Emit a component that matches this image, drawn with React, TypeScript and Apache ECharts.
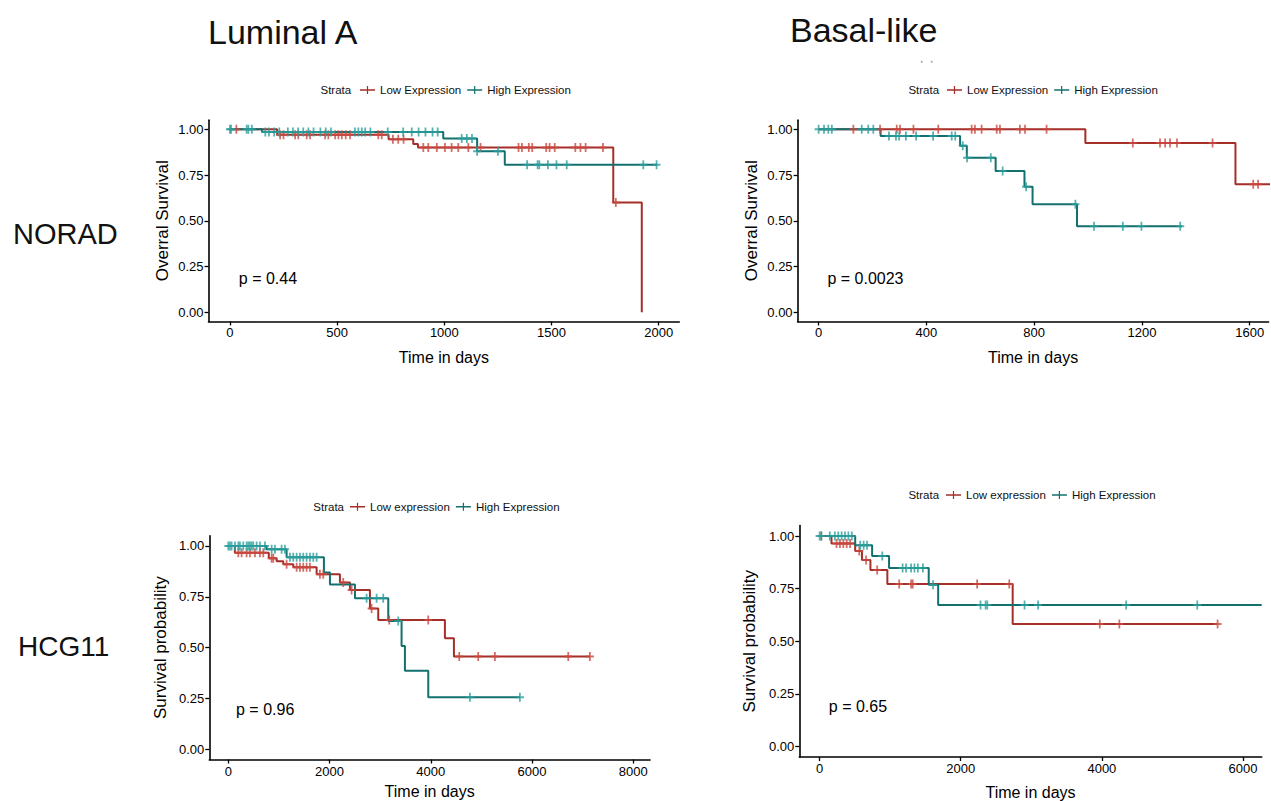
import React, { useEffect, useRef } from 'react';
import * as echarts from 'echarts';

type Pt = [number, number];

// ---------- shared tick labels ----------
const survivalTicks = [0, 0.25, 0.5, 0.75, 1];
const lumNoradTimeTicks = [0, 500, 1000, 1500, 2000];
const basNoradTimeTicks = [0, 400, 800, 1200, 1600];
const lumHcgTimeTicks = [0, 2000, 4000, 6000, 8000];
const basHcgTimeTicks = [0, 2000, 4000, 6000];

// ---------- NORAD / Luminal A ----------
const lumNoradLow: Pt[] = [[0, 1], [220, 0.97], [740, 0.945], [855, 0.92], [877, 0.9], [1788, 0.6], [1921, 0.0]];
const lumNoradHigh: Pt[] = [[0, 1], [150, 0.985], [995, 0.95], [1153, 0.88], [1282, 0.806], [1993, 0.806]];
const lumNoradLowCens: Pt[] = [
  [30, 1], [234, 0.97], [250, 0.97], [304, 0.97], [319, 0.97], [358, 0.97], [374, 0.97], [444, 0.97], [459, 0.97],
  [491, 0.97], [506, 0.97], [522, 0.97], [540, 0.97], [560, 0.97], [692, 0.97], [708, 0.97], [760, 0.945], [785, 0.945],
  [810, 0.945], [902, 0.9], [925, 0.9], [965, 0.9], [1003, 0.9], [1034, 0.9], [1065, 0.9], [1112, 0.9], [1169, 0.9],
  [1346, 0.9], [1362, 0.9], [1394, 0.9], [1410, 0.9], [1475, 0.9], [1491, 0.9], [1515, 0.9], [1611, 0.9], [1635, 0.9],
  [1659, 0.9], [1740, 0.9], [1800, 0.6],
];
const lumNoradHighCens: Pt[] = [
  [0, 1], [5, 1], [78, 1], [86, 1], [102, 1], [165, 0.985], [182, 0.985], [206, 0.985], [230, 0.985], [270, 0.985],
  [294, 0.985], [318, 0.985], [342, 0.985], [366, 0.985], [390, 0.985], [422, 0.985], [447, 0.985], [471, 0.985],
  [583, 0.985], [599, 0.985], [615, 0.985], [631, 0.985], [655, 0.985], [736, 0.985], [808, 0.985], [848, 0.985],
  [880, 0.985], [912, 0.985], [945, 0.985], [969, 0.985], [1081, 0.95], [1105, 0.95], [1129, 0.95], [1153, 0.88],
  [1250, 0.88], [1386, 0.806], [1435, 0.806], [1443, 0.806], [1483, 0.806], [1523, 0.806], [1571, 0.806],
  [1928, 0.806], [1990, 0.806],
];

// ---------- NORAD / Basal-like ----------
const basNoradLow: Pt[] = [[0, 1], [990, 0.925], [1547, 0.7], [1680, 0.7]];
const basNoradHigh: Pt[] = [[0, 1], [230, 0.963], [525, 0.91], [550, 0.845], [657, 0.772], [764, 0.686], [794, 0.59], [959, 0.47], [1349, 0.47]];
const basNoradLowCens: Pt[] = [
  [129, 1], [228, 1], [290, 1], [302, 1], [352, 1], [444, 1], [568, 1], [580, 1], [605, 1], [661, 1], [673, 1],
  [747, 1], [766, 1], [846, 1], [1166, 0.925], [1267, 0.925], [1286, 0.925], [1304, 0.925], [1330, 0.925],
  [1462, 0.925], [1613, 0.7], [1631, 0.7],
];
const basNoradHighCens: Pt[] = [
  [0, 1], [20, 1], [36, 1], [49, 1], [160, 1], [184, 1], [203, 1], [261, 0.963], [287, 0.963], [299, 0.963],
  [324, 0.963], [362, 0.963], [425, 0.963], [494, 0.963], [507, 0.963], [535, 0.91], [551, 0.845], [639, 0.845],
  [683, 0.772], [770, 0.686], [953, 0.59], [1022, 0.47], [1129, 0.47], [1198, 0.47], [1342, 0.47],
];

// ---------- HCG11 / Luminal A ----------
const lumHcgLow: Pt[] = [
  [0, 1], [130, 0.967], [800, 0.939], [955, 0.925], [1086, 0.91], [1284, 0.895], [1745, 0.861], [2205, 0.82],
  [2403, 0.784], [2798, 0.693], [2962, 0.636], [4279, 0.546], [4457, 0.456], [7143, 0.456],
];
const lumHcgHigh: Pt[] = [
  [0, 1], [757, 0.984], [1152, 0.944], [1889, 0.87], [2008, 0.811], [2502, 0.743], [3160, 0.631], [3423, 0.508],
  [3489, 0.387], [3950, 0.256], [5760, 0.256],
];
const lumHcgLowCens: Pt[] = [
  [198, 0.967], [263, 0.967], [362, 0.967], [428, 0.967], [527, 0.967], [625, 0.967], [691, 0.967], [856, 0.939],
  [889, 0.939], [1152, 0.91], [1350, 0.895], [1415, 0.895], [1481, 0.895], [1547, 0.895], [1613, 0.895],
  [1810, 0.861], [1876, 0.861], [2271, 0.82], [2436, 0.784], [2831, 0.693], [3180, 0.636], [3950, 0.636],
  [4562, 0.456], [4937, 0.456], [5266, 0.456], [6715, 0.456], [7143, 0.456],
];
const lumHcgHighCens: Pt[] = [
  [0, 1], [33, 1], [66, 1], [132, 1], [198, 1], [230, 1], [296, 1], [362, 1], [395, 1], [428, 1], [461, 1], [494, 1],
  [560, 1], [625, 1], [724, 1], [856, 0.984], [922, 0.984], [1053, 0.984], [1119, 0.984], [1218, 0.944],
  [1284, 0.944], [1350, 0.944], [1415, 0.944], [1481, 0.944], [1547, 0.944], [1613, 0.944], [1679, 0.944],
  [1745, 0.944], [2732, 0.743], [2930, 0.743], [3061, 0.743], [3357, 0.631], [4773, 0.256], [5760, 0.256],
];

// ---------- HCG11 / Basal-like ----------
const basHcgLow: Pt[] = [[0, 1], [168, 0.965], [504, 0.929], [600, 0.886], [720, 0.839], [960, 0.772], [2736, 0.582], [5640, 0.582]];
const basHcgHigh: Pt[] = [[0, 1], [504, 0.956], [744, 0.905], [984, 0.848], [1546, 0.769], [1680, 0.672], [6265, 0.672]];
const basHcgLowCens: Pt[] = [
  [24, 1], [240, 0.965], [288, 0.965], [336, 0.965], [384, 0.965], [432, 0.965], [562, 0.929], [658, 0.886],
  [816, 0.839], [1128, 0.772], [1296, 0.772], [1320, 0.772], [2232, 0.772], [2688, 0.772], [3970, 0.582],
  [4248, 0.582], [5640, 0.582],
];
const basHcgHighCens: Pt[] = [
  [0, 1], [24, 1], [144, 1], [216, 1], [264, 1], [312, 1], [360, 1], [408, 1], [456, 1], [576, 0.956], [624, 0.956],
  [672, 0.956], [888, 0.905], [1176, 0.848], [1224, 0.848], [1296, 0.848], [1344, 0.848], [1392, 0.848],
  [1464, 0.848], [1608, 0.769], [2280, 0.672], [2352, 0.672], [2376, 0.672], [2904, 0.672], [3096, 0.672],
  [4344, 0.672], [5352, 0.672],
];

const pValues = ['p = 0.44', 'p = 0.0023', 'p = 0.96', 'p = 0.65'];

const FONT = '"Liberation Sans", Arial, Helvetica, sans-serif';
const RED = '#A52E28';
const TEAL = '#12706E';
const RED_C = '#C94840';
const TEAL_C = '#2A9F9C';
const PLUS = 'path://M3.9,0H6.1V10H3.9ZM0,3.9H10V6.1H0Z';
const LEG_ICON = 'path://M0,6.6H30V9.4H0ZM13.8,0H16.2V16H13.8Z';

const panels = [
  {
    grid: { left: 208.5, top: 120.15, width: 470.8, height: 201.3 }, xMin: -100, xMax: 2096, ticks: lumNoradTimeTicks,
    yName: 'Overral Survival', lowName: 'Low Expression', low: lumNoradLow, high: lumNoradHigh,
    lowC: lumNoradLowCens, highC: lumNoradHighCens, xGap: 28, yGap: 38,
    legend: { left: 360, top: 83 }, strata: [320.5, 90], p: [238.8, 278],
  },
  {
    grid: { left: 797.6, top: 120.15, width: 471, height: 201.3 }, xMin: -78, xMax: 1670, ticks: basNoradTimeTicks,
    yName: 'Overral Survival', lowName: 'Low Expression', low: basNoradLow, high: basNoradHigh,
    lowC: basNoradLowCens, highC: basNoradHighCens, xGap: 28, yGap: 38,
    legend: { left: 947, top: 83 }, strata: [908.4, 90], p: [827.4, 278.3],
  },
  {
    grid: { left: 209.3, top: 535.8, width: 440.7, height: 223.7 }, xMin: -375, xMax: 8330, ticks: lumHcgTimeTicks,
    yName: 'Survival probability', lowName: 'Low expression', low: lumHcgLow, high: lumHcgHigh,
    lowC: lumHcgLowCens, highC: lumHcgHighCens, xGap: 24, yGap: 40,
    legend: { left: 350, top: 499.7 }, strata: [313.3, 506.7], p: [236, 709],
  },
  {
    grid: { left: 799.3, top: 525.5, width: 462.4, height: 231.7 }, xMin: -288, xMax: 6265, ticks: basHcgTimeTicks,
    yName: 'Survival probability', lowName: 'Low expression', low: basHcgLow, high: basHcgHigh,
    lowC: basHcgLowCens, highC: basHcgHighCens, xGap: 27, yGap: 41,
    legend: { left: 946, top: 488 }, strata: [908.4, 495], p: [828.8, 706],
  },
];

function buildOption() {
  const axisLine = { show: true, onZero: false, lineStyle: { color: '#000', width: 1.6 } };
  const grid = panels.map((p) => ({ ...p.grid, containLabel: false }));
  const xAxis = panels.map((p, i) => ({
    type: 'value', gridIndex: i, min: p.xMin, max: p.xMax,
    axisLine, splitLine: { show: false },
    axisTick: { show: true, length: 4, customValues: p.ticks, lineStyle: { color: '#000', width: 1.3 } },
    axisLabel: {
      customValues: p.ticks, fontSize: 13, color: '#000', margin: 5, fontFamily: FONT,
      formatter: (v: number) => String(Math.round(v)),
    },
    name: 'Time in days', nameLocation: 'middle', nameGap: p.xGap,
    nameTextStyle: { fontSize: 16, color: '#000', fontFamily: FONT },
  }));
  const yAxis = panels.map((p, i) => ({
    type: 'value', gridIndex: i, min: -0.05, max: 1.05,
    axisLine, splitLine: { show: false },
    axisTick: { show: true, length: 4, customValues: survivalTicks, lineStyle: { color: '#000', width: 1.3 } },
    axisLabel: {
      customValues: survivalTicks, fontSize: 13, color: '#000', margin: 5, fontFamily: FONT,
      formatter: (v: number) => Number(v).toFixed(2),
    },
    name: p.yName, nameLocation: 'middle', nameGap: p.yGap,
    nameTextStyle: { fontSize: 17, color: '#000', fontFamily: FONT },
  }));
  const series: any[] = [];
  panels.forEach((p, i) => {
    series.push({
      type: 'line', name: p.lowName, xAxisIndex: i, yAxisIndex: i, data: p.low, step: 'end',
      showSymbol: false, symbol: 'none', color: RED, lineStyle: { color: RED, width: 2 }, z: 2,
    });
    series.push({
      type: 'line', name: 'High Expression', xAxisIndex: i, yAxisIndex: i, data: p.high, step: 'end',
      showSymbol: false, symbol: 'none', color: TEAL, lineStyle: { color: TEAL, width: 2 }, z: 3,
    });
    series.push({
      type: 'scatter', name: p.lowName + ' (censored)', xAxisIndex: i, yAxisIndex: i, data: p.lowC,
      symbol: PLUS, symbolSize: [8, 9], itemStyle: { color: RED_C }, z: 4,
    });
    series.push({
      type: 'scatter', name: 'High Expression (censored)', xAxisIndex: i, yAxisIndex: i, data: p.highC,
      symbol: PLUS, symbolSize: [8, 9], itemStyle: { color: TEAL_C }, z: 5,
    });
  });
  const legend = panels.map((p) => ({
    left: p.legend.left, top: p.legend.top, orient: 'horizontal', itemWidth: 15, itemHeight: 8, itemGap: 6,
    selectedMode: false, padding: 0,
    textStyle: { fontSize: 11.5, fontFamily: FONT, color: '#111', lineHeight: 14 },
    data: [{ name: p.lowName, icon: LEG_ICON }, { name: 'High Expression', icon: LEG_ICON }],
  }));
  const txt = (text: string, x: number, y: number, size: number, color = '#000') => ({
    type: 'text', x, y, silent: true,
    style: { text, fontSize: size, fontFamily: FONT, fill: color, align: 'left', verticalAlign: 'middle' },
  });
  const graphic: any[] = [
    txt('Luminal A', 208, 32, 34, '#111'),
    txt('Basal-like', 790, 30, 34, '#111'),
    txt('NORAD', 13, 234, 29, '#111'),
    txt('HCG11', 18, 646, 28, '#111'),
    { type: 'circle', shape: { cx: 921.7, cy: 61.7, r: 0.9 }, style: { fill: '#999' }, silent: true },
    { type: 'circle', shape: { cx: 931.7, cy: 61.7, r: 0.9 }, style: { fill: '#999' }, silent: true },
  ];
  panels.forEach((p, i) => {
    graphic.push(txt('Strata', p.strata[0], p.strata[1], 11.5, '#111'));
    graphic.push(txt(pValues[i], p.p[0], p.p[1], 16, '#000'));
  });
  return {
    animation: false,
    backgroundColor: '#ffffff',
    grid, xAxis, yAxis, series, legend, graphic,
  };
}

export default function App() {
  const ref = useRef<HTMLDivElement>(null);
  useEffect(() => {
    if (!ref.current) return;
    const chart = echarts.init(ref.current, undefined, { renderer: 'svg' });
    chart.setOption(buildOption() as any);
    return () => chart.dispose();
  }, []);
  return (
    <div
      ref={ref}
      style={{ position: 'absolute', left: 0, top: 0, width: 1271, height: 801, background: '#fff' }}
    />
  );
}
